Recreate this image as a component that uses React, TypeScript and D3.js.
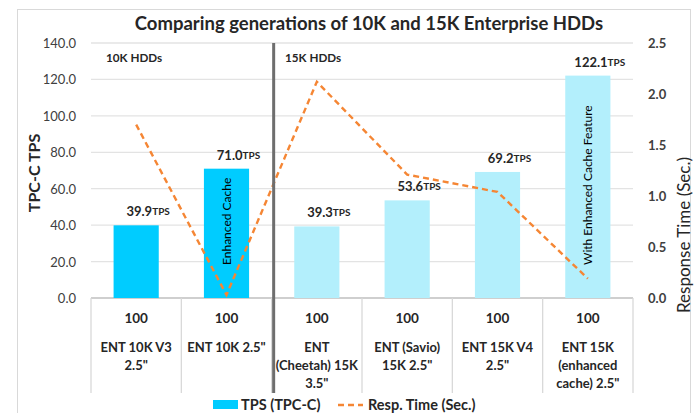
import React from "react";
import * as d3 from "d3";

const categories = ["c1", "c2", "c3", "c4", "c5", "c6"];
const categoryLines = [
  ["ENT 10K V3", "2.5\""],
  ["ENT 10K 2.5\""],
  ["ENT", "(Cheetah) 15K", "3.5\""],
  ["ENT (Savio)", "15K 2.5\""],
  ["ENT 15K V4", "2.5\""],
  ["ENT 15K", "(enhanced", "cache) 2.5\""],
];
const queueDepth = ["100", "100", "100", "100", "100", "100"];
const tps = [39.9, 71.0, 39.3, 53.6, 69.2, 122.1];
const respTime = [1.7, 0.03, 2.12, 1.21, 1.04, 0.19];
const barInnerText = ["", "Enhanced Cache", "", "", "", "With Enhanced Cache Feature"];
const highlighted = [true, true, false, false, false, false];
const leftTicks = [0, 20, 40, 60, 80, 100, 120, 140];
const rightTicks = [0, 0.5, 1.0, 1.5, 2.0, 2.5];

const W = 696;
const H = 413;
const left = 91;
const right = 633;
const top = 43;
const bottom = 298;
const FONT = "Lato, 'Open Sans', sans-serif";

export default function App() {
  const x = d3.scaleBand<string>().domain(categories).range([left, right]).paddingInner(0.5).paddingOuter(0.25);
  const y = d3.scaleLinear().domain([0, 140]).range([bottom, top]);
  const y2 = d3.scaleLinear().domain([0, 2.5]).range([bottom, top]);
  const step = x.step();
  const line = d3
    .line<number>()
    .x((_, i) => (x(categories[i]) as number) + x.bandwidth() / 2)
    .y((d) => y2(d));
  const sepX = left + step * 2 + 2;

  return (
    <svg width={W} height={H} style={{ position: "absolute", left: 0, top: 0, background: "#fff" }}>
      <rect x={17.5} y={9.5} width={673} height={420} fill="#fff" stroke="#D9D9D9" />
      <text x={369} y={30} textAnchor="middle" fontFamily={FONT} fontWeight="bold" fontSize={18.5} fill="#262626">
        Comparing generations of 10K and 15K Enterprise HDDs
      </text>
      {leftTicks.map((t) => (
        <g key={"g" + t}>
          <line x1={left} x2={right} y1={y(t)} y2={y(t)} stroke={t === 0 ? "#BFBFBF" : "#E3E3E3"} strokeWidth={1.3} />
          <text x={76} y={y(t) + 5} textAnchor="end" fontFamily={FONT} fontSize={13} fill="#404040">
            {t.toFixed(1)}
          </text>
        </g>
      ))}
      {rightTicks.map((t) => (
        <text key={"r" + t} x={648} y={y2(t) + 5} fontFamily={FONT} fontWeight="bold" fontSize={13} fill="#404040">
          {t.toFixed(1)}
        </text>
      ))}
      <text transform={`translate(40,173) rotate(-90)`} textAnchor="middle" fontFamily={FONT} fontWeight="bold" fontSize={16} fill="#262626">
        TPC-C TPS
      </text>
      <text transform={`translate(690,235) rotate(-90)`} textAnchor="middle" fontFamily={FONT} fontSize={17} fill="#262626">
        Response Time (Sec.)
      </text>
      {d3.range(categories.length + 1).map((i) => (
        <line key={"v" + i} x1={left + i * step} x2={left + i * step} y1={bottom} y2={393} stroke="#D9D9D9" strokeWidth={1.3} />
      ))}
      {tps.map((v, i) => {
        const bx = x(categories[i]) as number;
        const cx = bx + x.bandwidth() / 2;
        return (
          <g key={"b" + i}>
            <rect x={bx} y={y(v)} width={x.bandwidth()} height={bottom - y(v)} fill={highlighted[i] ? "#00CCFF" : "#B3EFFC"} />
            <text x={cx + 12} y={y(v) - 9} textAnchor="middle" fontFamily={FONT} fontWeight="bold" fill="#262626">
              <tspan fontSize={13}>{v.toFixed(1)}</tspan>
              <tspan fontSize={10} dy={-1}>{"TPS"}</tspan>
            </text>
            {barInnerText[i] && (
              <text transform={`translate(${cx + 4.5},265) rotate(-90)`} fontFamily={FONT} fontSize={12} fill="#000">
                {barInnerText[i]}
              </text>
            )}
            <text x={cx} y={323} textAnchor="middle" fontFamily={FONT} fontWeight="bold" fontSize={13.5} fill="#262626">
              {queueDepth[i]}
            </text>
            {categoryLines[i].map((s, j) => (
              <text key={j} x={cx} y={352 + j * 18} textAnchor="middle" fontFamily={FONT} fontWeight="bold" fontSize={13} fill="#262626">
                {s}
              </text>
            ))}
          </g>
        );
      })}
      <path d={line(respTime) || ""} fill="none" stroke="#F58634" strokeWidth={2.4} strokeDasharray="6,4" />
      <line x1={sepX} x2={sepX} y1={top} y2={393} stroke="#6E6E6E" strokeWidth={3} />
      <text x={106} y={62} fontFamily={FONT} fontWeight="bold" fontSize={11.7} fill="#262626">10K HDDs</text>
      <text x={285} y={62} fontFamily={FONT} fontWeight="bold" fontSize={11.7} fill="#262626">15K HDDs</text>
      <rect x={213} y={400} width={25} height={9} fill="#00CCFF" />
      <text x={241} y={410} fontFamily={FONT} fontWeight="bold" fontSize={14.5} fill="#262626">TPS (TPC-C)</text>
      <line x1={338} x2={363} y1={405} y2={405} stroke="#F58634" strokeWidth={2.4} strokeDasharray="6,4" />
      <text x={368} y={410} fontFamily={FONT} fontWeight="bold" fontSize={14.5} fill="#262626">Resp. Time (Sec.)</text>
    </svg>
  );
}
